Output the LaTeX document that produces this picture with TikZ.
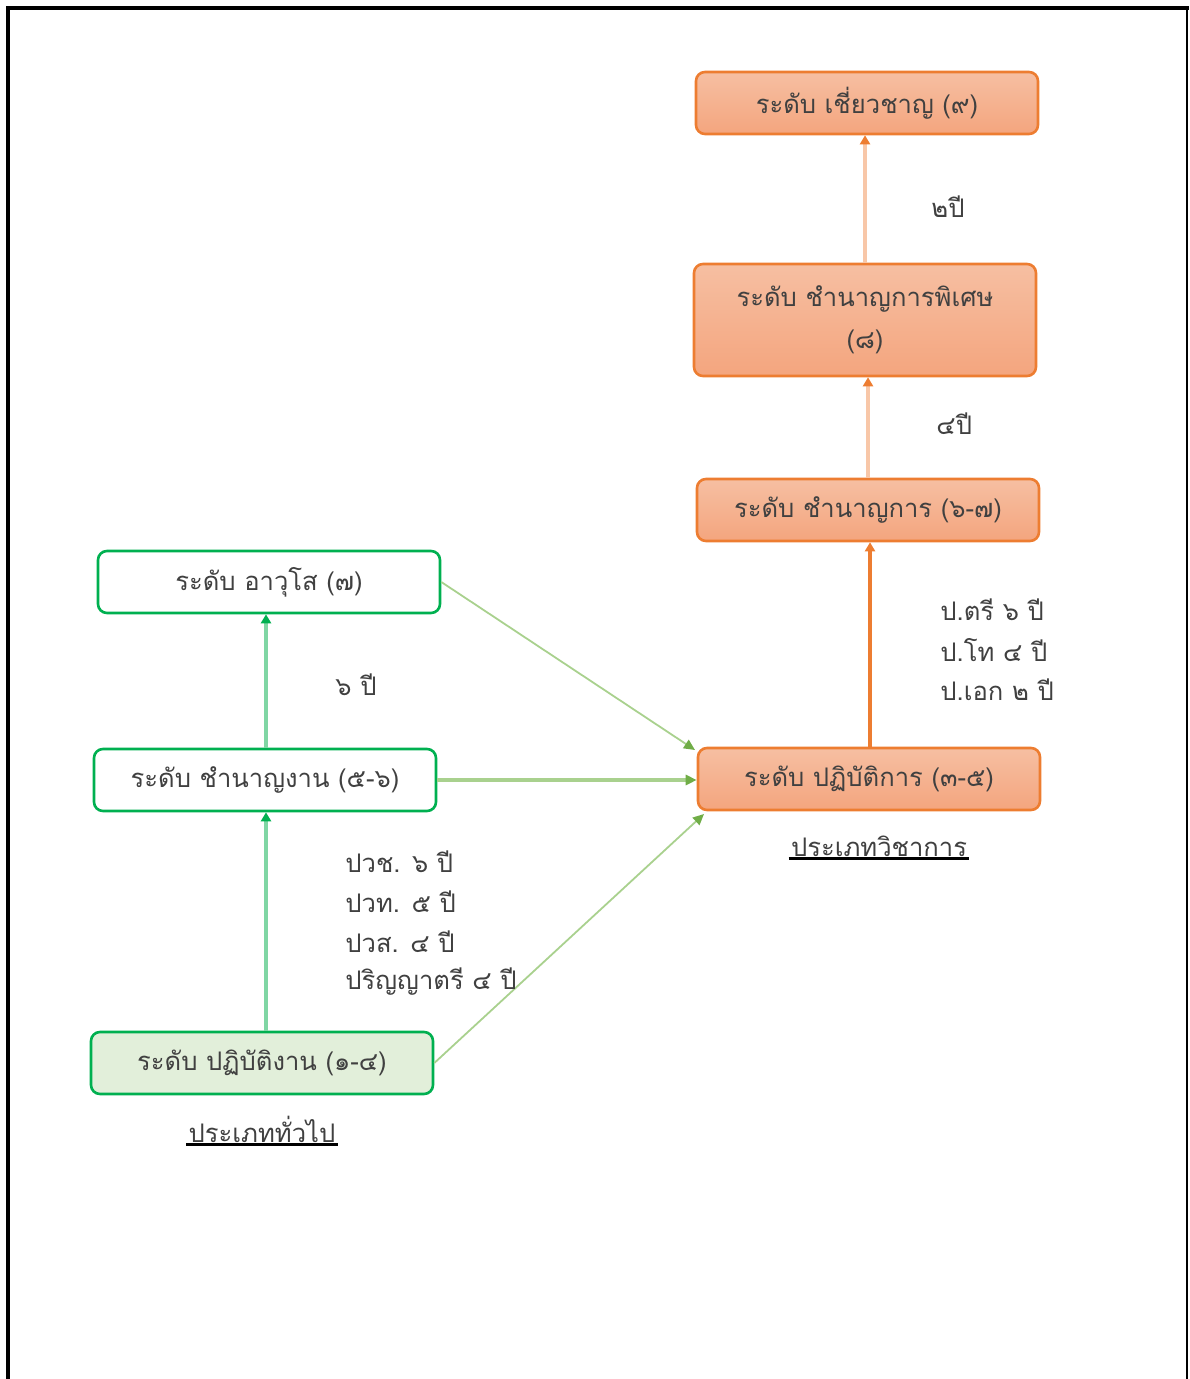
\documentclass[tikz,border=0pt]{standalone}
\usepackage{fontspec}
\newfontfamily\thaifont[Script=Thai]{Loma}
\usetikzlibrary{arrows.meta}
\definecolor{orgline}{HTML}{ED7D31}
\definecolor{orgtop}{HTML}{F6BFA2}
\definecolor{orgbot}{HTML}{F4A57E}
\definecolor{peach}{HTML}{F8C7A8}
\definecolor{grnline}{HTML}{00B050}
\definecolor{grnlight}{HTML}{80D6A4}
\definecolor{grnfill}{HTML}{E2EFDA}
\definecolor{olive}{HTML}{70AD47}
\definecolor{olivelight}{HTML}{A9D18E}
\definecolor{txt}{HTML}{404040}
\tikzset{
  x=0.5pt, y=-0.5pt,
  every node/.style={font=\thaifont\fontsize{12.8}{16}\selectfont, text=txt},
  obox/.style={draw=orgline, line width=1.3pt, rounded corners=4.5pt, top color=orgtop, bottom color=orgbot,
    minimum width=171pt, minimum height=31pt, align=center, inner sep=0pt},
  gbox/.style={draw=grnline, line width=1.3pt, rounded corners=4.5pt, fill=white,
    minimum width=171pt, minimum height=31pt, align=center, inner sep=0pt},
  lbl/.style={align=left, inner sep=0pt},
  oarrow/.style={line width=1.8pt, -{Triangle[length=4.5pt,width=5pt,color=orgline]}},
  garrow/.style={line width=1.8pt, draw=grnlight, -{Triangle[length=4.5pt,width=5pt,color=grnline]}},
  darrow/.style={line width=0.9pt, draw=olivelight, -{Triangle[length=5.5pt,width=5pt,color=olive]}},
  harrow/.style={line width=1.6pt, draw=olivelight, -{Triangle[length=5.5pt,width=5pt,color=olive]}},
  uline/.style={line width=1.7pt, black}
}
\begin{document}
\begin{tikzpicture}
\useasboundingbox (0,0) rectangle (1189,1379);
% page frame
\draw[line width=1.6pt, black] (8,1379) -- (8,8) -- (1189,8);
\draw[line width=0.9pt, black] (1187,8) -- (1187,1379);

% academic track
\node[obox] (A) at (867,103) {ระดับ เชี่ยวชาญ (๙)};
\node[obox, minimum height=56pt] (B) at (865,320) {ระดับ ชำนาญการพิเศษ\\[5pt](๘)};
\node[obox] (C) at (868,510) {ระดับ ชำนาญการ (๖-๗)};
\node[obox] (D) at (869,779) {ระดับ ปฏิบัติการ (๓-๕)};
\node[inner sep=1pt] (Dcap) at (879,846) {ประเภทวิชาการ};
\draw[uline] (Dcap.south west) -- (Dcap.south east);

% general track
\node[gbox] (E) at (269,582) {ระดับ อาวุโส (๗)};
\node[gbox] (F) at (265,780) {ระดับ ชำนาญงาน (๕-๖)};
\node[gbox, fill=grnfill] (G) at (262,1063) {ระดับ ปฏิบัติงาน (๑-๔)};
\node[inner sep=1pt] (Gcap) at (262,1129) {ประเภททั่วไป};
\draw[uline] (Gcap.south west) -- (Gcap.south east);

% academic arrows
\draw[oarrow, draw=peach] (B.north -| 865,0) -- (A.south -| 865,0);
\draw[oarrow, draw=peach] (C.north -| 868,0) -- (B.south -| 868,0);
\draw[oarrow, draw=orgline] (D.north -| 870,0) -- (C.south -| 870,0);

% general arrows
\draw[garrow] (F.north -| 266,0) -- (E.south -| 266,0);
\draw[garrow] (G.north -| 266,0) -- (F.south -| 266,0);

% cross arrows
\coordinate (Din1) at (695,750);
\coordinate (Din3) at (704,814);
\draw[darrow] (E.east) -- (Din1);
\draw[harrow] (F.east) -- (F.east -| D.west);
\draw[darrow] (G.east) -- (Din3);

% labels
\node[lbl, anchor=west] (l1) at (931,207) {๒ปี};
\node[lbl, anchor=west] (l2) at (936,424) {๔ปี};
\node[lbl, anchor=west] (l3) at (940,610) {ป.ตรี ๖ ปี};
\node[lbl, anchor=west] (l4) at (940,650) {ป.โท ๔ ปี};
\node[lbl, anchor=west] (l5) at (940,690) {ป.เอก ๒ ปี};
\node[lbl, anchor=west] (l6) at (335,685) {๖ ปี};
\node[lbl, anchor=west] (l7) at (345,862) {ปวช. ๖ ปี};
\node[lbl, anchor=west] (l8) at (345,902) {ปวท. ๕ ปี};
\node[lbl, anchor=west] (l9) at (345,942) {ปวส. ๔ ปี};
\node[lbl, anchor=west] (l10) at (345,982) {ปริญญาตรี ๔ ปี};
\end{tikzpicture}
\end{document}
